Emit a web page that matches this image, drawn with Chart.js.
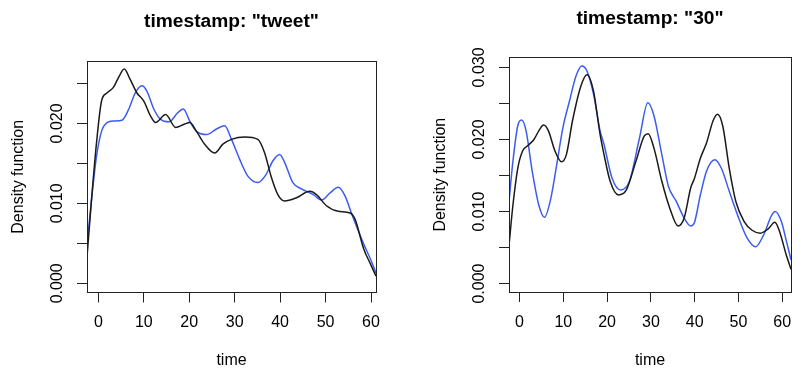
<!DOCTYPE html>
<html>
<head>
<meta charset="utf-8">
<script src="https://cdn.jsdelivr.net/npm/chart.js@4.4.0/dist/chart.umd.min.js"></script>
<style>
  html, body { margin: 0; padding: 0; background: #fff; overflow: hidden; }
  #tweetChart { position: absolute; left: 0; top: 0; }
  #thirtyChart { position: absolute; left: 400px; top: 0; }
</style>
</head>
<body>
<canvas id="tweetChart" width="400" height="372"></canvas>
<canvas id="thirtyChart" width="402" height="372"></canvas>
<script>
// Panel 1: timestamp "tweet"
const tweetBlackTime = [-2.5, -1.5, -0.4, 0.7, 1.9, 3.3, 4.4, 5.7, 7, 8.5, 10, 11.5, 12.6, 14.8, 17, 18.9, 20.1, 21.6, 23.4, 25.6, 27.4, 29.3, 32.2, 35.1, 36.6, 38, 39.5, 41, 43.6, 46.5, 48, 50.2, 52.8, 55.4, 56.5, 58.4, 59.9, 61.1];
const tweetBlackDensity = [0.0033, 0.0105, 0.0176, 0.0228, 0.0238, 0.0245, 0.0257, 0.0268, 0.0255, 0.0238, 0.0228, 0.0209, 0.0201, 0.0211, 0.0195, 0.0199, 0.0201, 0.019, 0.0174, 0.0163, 0.0174, 0.018, 0.0183, 0.018, 0.0163, 0.0134, 0.0111, 0.0103, 0.0107, 0.0115, 0.0111, 0.0097, 0.009, 0.0088, 0.008, 0.0043, 0.0024, 0.0009];
const tweetBlueTime = [-2.5, -1.5, -0.4, 0.7, 1.9, 3.3, 5.2, 6.7, 8.1, 9.6, 10.7, 12.2, 13.7, 15.6, 17.4, 18.7, 20.1, 21.6, 23.8, 26, 27.8, 29.3, 31.1, 32.9, 35.1, 36.9, 38.4, 39.9, 41, 42.8, 44.7, 47.3, 49.1, 51, 52.8, 54.3, 55.8, 58.4, 59.9, 61.1];
const tweetBlueDensity = [0.0047, 0.0105, 0.0159, 0.019, 0.0201, 0.0203, 0.0204, 0.0218, 0.0238, 0.0247, 0.024, 0.0218, 0.0205, 0.0202, 0.0213, 0.0218, 0.0203, 0.019, 0.0186, 0.0193, 0.0197, 0.018, 0.0155, 0.0134, 0.0126, 0.0136, 0.0153, 0.0161, 0.0151, 0.0126, 0.0118, 0.0111, 0.0104, 0.0113, 0.012, 0.0109, 0.0086, 0.0049, 0.003, 0.0013];

// Panel 2: timestamp "30"
const thirtyBlackTime = [-2.4, -1.5, -0.4, 0.7, 1.8, 3.3, 4.4, 5.5, 6.6, 8.1, 9.6, 10.7, 12.1, 14, 15.4, 16.9, 18.4, 19.3, 20.7, 22.6, 24.4, 26.6, 28.5, 29.4, 30.7, 32.5, 34.3, 36.2, 37.6, 39.1, 39.9, 41.3, 42.7, 44.2, 45.2, 46.4, 47.9, 49.4, 51.3, 53.1, 55, 56.8, 58.3, 59.4, 60.9, 62];
const thirtyBlackDensity = [0.0053, 0.0109, 0.016, 0.0184, 0.0191, 0.02, 0.0212, 0.022, 0.0212, 0.0184, 0.0169, 0.0179, 0.0226, 0.0274, 0.029, 0.0267, 0.0207, 0.0179, 0.0142, 0.0123, 0.013, 0.017, 0.0205, 0.0208, 0.0188, 0.0142, 0.0105, 0.008, 0.0091, 0.0133, 0.0145, 0.0174, 0.0195, 0.0226, 0.0235, 0.0219, 0.016, 0.0114, 0.0086, 0.0074, 0.007, 0.0076, 0.0085, 0.0072, 0.004, 0.002];
const thirtyBlueTime = [-2.4, -1.5, -0.4, 0.5, 1.5, 2.9, 4.4, 5.7, 7, 8.5, 9.9, 11.4, 12.9, 14.2, 15.4, 16.9, 18.4, 19.3, 21.1, 23.1, 25.1, 27.4, 29.3, 30.7, 32.5, 34, 35.8, 37.6, 39.1, 39.9, 41.3, 42.7, 44.6, 46.1, 47.9, 49.8, 52, 53.9, 55.7, 57.6, 58.4, 59.8, 60.9, 62];
const thirtyBlueDensity = [0.0114, 0.017, 0.0219, 0.0227, 0.0212, 0.0156, 0.0109, 0.0092, 0.0114, 0.0165, 0.0216, 0.0253, 0.0288, 0.0302, 0.0295, 0.0263, 0.0212, 0.0193, 0.0147, 0.013, 0.0142, 0.0202, 0.0251, 0.0233, 0.0179, 0.0135, 0.0114, 0.0091, 0.008, 0.0084, 0.0123, 0.0156, 0.0172, 0.016, 0.0128, 0.0095, 0.0063, 0.0051, 0.0067, 0.0095, 0.01, 0.0086, 0.006, 0.0033];

// Which y values get a (rotated) label
const tweetYLabels = [0, 0.01, 0.02];
const thirtyYLabels = [0, 0.01, 0.02, 0.03];

const FONT = '"Liberation Sans", Arial, Helvetica, sans-serif';
const LINE_BLACK = '#1a1a1a';
const LINE_BLUE = '#3c5cf0';

Chart.defaults.font.family = FONT;
Chart.defaults.color = '#000';

// Turn two arrays into {x, y} points
function toPoints(times, values) {
    return times.map((t, i) => ({ x: t, y: values[i] }));
}

// Box around the plot region (like R's box())
const frameBox = {
    id: 'frameBox',
    afterDatasetsDraw(chart) {
        const { ctx, chartArea: a } = chart;
        ctx.save();
        ctx.strokeStyle = '#222';
        ctx.lineWidth = 1;
        ctx.strokeRect(Math.round(a.left) + 0.5, Math.round(a.top) + 0.5,
            Math.round(a.right - a.left), Math.round(a.bottom - a.top));
        ctx.restore();
    }
};

// R draws y tick labels parallel to the axis, Chart.js can't rotate them
const rotatedYLabels = {
    id: 'rotatedYLabels',
    afterDraw(chart, args, opts) {
        const scale = chart.scales.y;
        const ctx = chart.ctx;
        ctx.save();
        ctx.font = '16px ' + FONT;
        ctx.fillStyle = '#000';
        ctx.textAlign = 'center';
        ctx.textBaseline = 'middle';
        opts.values.forEach(v => {
            ctx.save();
            ctx.translate(chart.chartArea.left - opts.offset, scale.getPixelForValue(v));
            ctx.rotate(-Math.PI / 2);
            ctx.fillText(v.toFixed(3), 0, 0);
            ctx.restore();
        });
        ctx.restore();
    }
};

function makePanel(canvasId, cfg) {
    const ctx = document.getElementById(canvasId).getContext('2d');
    return new Chart(ctx, {
        type: 'line',
        data: {
            datasets: [{
                data: toPoints(cfg.blackTime, cfg.blackDensity),
                borderColor: LINE_BLACK,
                borderWidth: 1.5,
            }, {
                data: toPoints(cfg.blueTime, cfg.blueDensity),
                borderColor: LINE_BLUE,
                borderWidth: 1.5,
            }]
        },
        options: {
            responsive: false,
            animation: false,
            layout: { padding: cfg.padding },
            elements: {
                point: { radius: 0 },
                line: { cubicInterpolationMode: 'monotone', fill: false },
            },
            plugins: {
                legend: { display: false },
                tooltip: { enabled: false },
                title: {
                    display: true,
                    text: cfg.title,
                    fullSize: false,
                    color: '#000',
                    font: { size: 19.2, weight: 'bold' },
                    padding: cfg.titlePadding,
                },
                rotatedYLabels: { values: cfg.yLabels, offset: 29 },
            },
            scales: {
                x: {
                    type: 'linear',
                    min: cfg.xMin,
                    max: cfg.xMax,
                    ticks: {
                        stepSize: 10,
                        includeBounds: false,
                        autoSkip: false,
                        maxRotation: 0,
                        padding: 10.5,
                        font: { size: 16 },
                        color: '#000',
                    },
                    grid: { drawOnChartArea: false, tickLength: 10, color: '#222' },
                    border: { color: '#222' },
                    title: { display: true, text: 'time', font: { size: 16 }, color: '#000', padding: { top: 0, bottom: 1.7 } },
                    afterFit(scale) { scale.height = cfg.xHeight; },
                },
                y: {
                    min: cfg.yMin,
                    max: cfg.yMax,
                    ticks: { stepSize: 0.005, includeBounds: false, display: false },
                    grid: { drawOnChartArea: false, tickLength: 10, color: '#222' },
                    border: { color: '#222' },
                    title: { display: true, text: 'Density function', font: { size: 16 }, color: '#000', padding: { top: 9.4, bottom: 0 } },
                    afterFit(scale) { scale.width = 87; },
                }
            }
        },
        plugins: [frameBox, rotatedYLabels],
    });
}

makePanel('tweetChart', {
    title: 'timestamp: "tweet"',
    blackTime: tweetBlackTime, blackDensity: tweetBlackDensity,
    blueTime: tweetBlueTime, blueDensity: tweetBlueDensity,
    yLabels: tweetYLabels,
    xMin: -2.5, xMax: 61.1, yMin: -0.00115, yMax: 0.0278,
    padding: { left: 0, right: 24, top: 0, bottom: 0 },
    titlePadding: { top: 10.2, bottom: 27.8 },
    xHeight: 79.5,
});

makePanel('thirtyChart', {
    title: 'timestamp: "30"',
    blackTime: thirtyBlackTime, blackDensity: thirtyBlackDensity,
    blueTime: thirtyBlueTime, blueDensity: thirtyBlueDensity,
    yLabels: thirtyYLabels,
    xMin: -2.4, xMax: 62, yMin: -0.00117, yMax: 0.0314,
    padding: { left: 22, right: 1, top: 0, bottom: 0 },
    titlePadding: { top: 6.8, bottom: 27.5 },
    xHeight: 80,
});
</script>
</body>
</html>
